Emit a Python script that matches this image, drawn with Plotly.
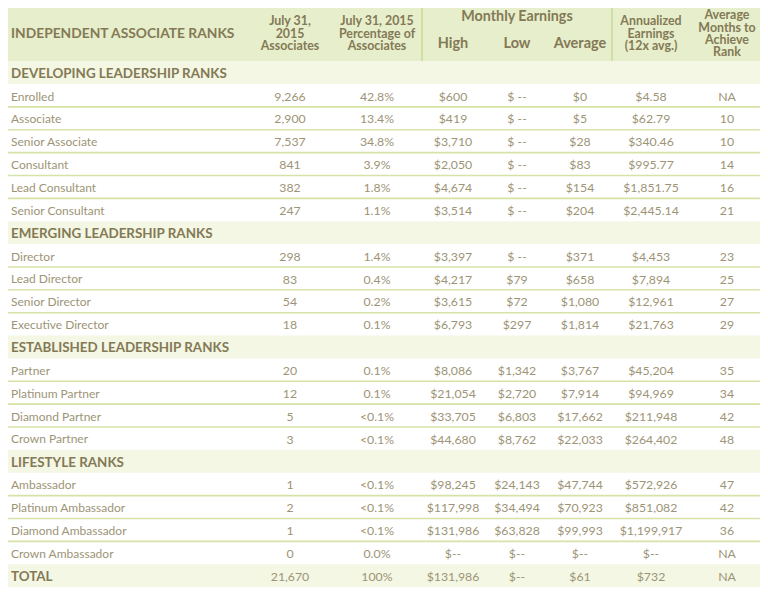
import plotly.graph_objects as go

# ---------------- data ----------------
section_names = ["DEVELOPING LEADERSHIP RANKS", "EMERGING LEADERSHIP RANKS",
                 "ESTABLISHED LEADERSHIP RANKS", "LIFESTYLE RANKS"]
section_sizes = [6, 4, 4, 4]

rank_names = ["Enrolled", "Associate", "Senior Associate", "Consultant", "Lead Consultant",
              "Senior Consultant", "Director", "Lead Director", "Senior Director",
              "Executive Director", "Partner", "Platinum Partner", "Diamond Partner",
              "Crown Partner", "Ambassador", "Platinum Ambassador", "Diamond Ambassador",
              "Crown Ambassador"]
associates = ["9,266", "2,900", "7,537", "841", "382", "247", "298", "83", "54", "18",
              "20", "12", "5", "3", "1", "2", "1", "0"]
pct_associates = ["42.8%", "13.4%", "34.8%", "3.9%", "1.8%", "1.1%", "1.4%", "0.4%", "0.2%",
                  "0.1%", "0.1%", "0.1%", "<0.1%", "<0.1%", "<0.1%", "<0.1%", "<0.1%", "0.0%"]
monthly_high = ["$600", "$419", "$3,710", "$2,050", "$4,674", "$3,514", "$3,397", "$4,217",
                "$3,615", "$6,793", "$8,086", "$21,054", "$33,705", "$44,680", "$98,245",
                "$117,998", "$131,986", "$--"]
monthly_low = ["$ --", "$ --", "$ --", "$ --", "$ --", "$ --", "$ --", "$79", "$72", "$297",
               "$1,342", "$2,720", "$6,803", "$8,762", "$24,143", "$34,494", "$63,828", "$--"]
monthly_avg = ["$0", "$5", "$28", "$83", "$154", "$204", "$371", "$658", "$1,080", "$1,814",
               "$3,767", "$7,914", "$17,662", "$22,033", "$47,744", "$70,923", "$99,993", "$--"]
annualized = ["$4.58", "$62.79", "$340.46", "$995.77", "$1,851.75", "$2,445.14", "$4,453",
              "$7,894", "$12,961", "$21,763", "$45,204", "$94,969", "$211,948", "$264,402",
              "$572,926", "$851,082", "$1,199,917", "$--"]
avg_months = ["NA", "10", "10", "14", "16", "21", "23", "25", "27", "29", "35", "34", "42",
              "48", "47", "42", "36", "NA"]
total_row = ["TOTAL", "21,670", "100%", "$131,986", "$--", "$61", "$732", "NA"]

col_headers = [["INDEPENDENT ASSOCIATE RANKS"],
               ["July 31,", "2015", "Associates"],
               ["July 31, 2015", "Percentage of", "Associates"],
               ["High"], ["Low"], ["Average"],
               ["Annualized", "Earnings", "(12x avg.)"],
               ["Average", "Months to", "Achieve", "Rank"]]
group_header = "Monthly Earnings"

# ---------------- layout constants ----------------
PAGE_W, PAGE_H, BODY_MARGIN = 768, 593, 8
W, H = PAGE_W - BODY_MARGIN, PAGE_H - BODY_MARGIN
col_x = [11, 290, 377, 453, 517, 580, 651, 727]
tbl_left, tbl_right = 4, 765
div_x = [422, 612]
hdr_top, hdr_bot = -3.0, -0.5
line_gap = 0.545
nudge = 0.09
px_per_unit = 22.865
hdr_top_px = 4

FONT = "Lato"
hdr_color = "#847955"
body_color = "#9d9476"
hdr_bg = "#e6eecb"
sec_bg = "#f3f7e4"
sep_color = "#d5e4a6"
div_color = "#c8da98"

# ---------------- build rows ----------------
rows = []
k = 0
for name, n in zip(section_names, section_sizes):
    rows.append(("section", [name] + [""] * 7))
    for _ in range(n):
        rows.append(("rank", [rank_names[k], associates[k], pct_associates[k], monthly_high[k],
                              monthly_low[k], monthly_avg[k], annualized[k], avg_months[k]]))
        k += 1
rows.append(("total", total_row))

fig = go.Figure()
shapes = []

shapes.append(dict(type="rect", xref="x", yref="y", x0=tbl_left, x1=tbl_right,
                   y0=hdr_top, y1=hdr_bot, fillcolor=hdr_bg, line_width=0, layer="below"))
for dx in div_x:
    shapes.append(dict(type="line", xref="x", yref="y", x0=dx, x1=dx, y0=hdr_top, y1=hdr_bot,
                       line=dict(color=div_color, width=1.5), layer="below"))

for i, (kind, vals) in enumerate(rows):
    if kind in ("section", "total"):
        shapes.append(dict(type="rect", xref="x", yref="y", x0=tbl_left, x1=tbl_right,
                           y0=i - 0.5, y1=i + 0.5, fillcolor=sec_bg, line_width=0, layer="below"))
    if kind == "rank" and i + 1 < len(rows) and rows[i + 1][0] == "rank":
        shapes.append(dict(type="line", xref="x", yref="y", x0=tbl_left, x1=tbl_right,
                           y0=i + 0.5, y1=i + 0.5,
                           line=dict(color=sep_color, width=1.6), layer="below"))

# body text
for c in range(8):
    xs, ys, ts, colors, sizes = [], [], [], [], []
    for i, (kind, vals) in enumerate(rows):
        t = vals[c]
        if t == "":
            continue
        bold = kind == "section" or (kind == "total" and c == 0)
        xs.append(col_x[c])
        ys.append(i + nudge)
        ts.append("<b>%s</b>" % t if bold else t)
        colors.append(hdr_color if bold else body_color)
        if bold:
            sizes.append(13.4)
        else:
            sizes.append(12 if c == 0 else 12.3)
    fig.add_trace(go.Scatter(
        x=xs, y=ys, text=ts, mode="text",
        textposition="middle right" if c == 0 else "middle center",
        textfont=dict(family=FONT, color=colors, size=sizes),
        hoverinfo="skip", showlegend=False, cliponaxis=False))

# header text
hdr_mid = (hdr_top + hdr_bot) / 2
hx, hy, ht, hs = [], [], [], []
for c, lines in enumerate(col_headers):
    yc = -1.34 if c in (3, 4, 5) else hdr_mid
    n = len(lines)
    for j, ln in enumerate(lines):
        hx.append(col_x[c])
        hy.append(yc + (j - (n - 1) / 2) * line_gap + nudge)
        ht.append("<b>%s</b>" % ln)
        if c == 0:
            hs.append(13.8)
        elif c in (3, 4, 5):
            hs.append(14.5)
        else:
            hs.append(12.4)
hx.append(col_x[4])
hy.append(-2.52 + nudge)
ht.append("<b>%s</b>" % group_header)
hs.append(14.3)

fig.add_trace(go.Scatter(
    x=hx[1:], y=hy[1:], text=ht[1:], mode="text", textposition="middle center",
    textfont=dict(family=FONT, color=hdr_color, size=hs[1:]),
    hoverinfo="skip", showlegend=False, cliponaxis=False))
fig.add_trace(go.Scatter(
    x=hx[:1], y=hy[:1], text=ht[:1], mode="text", textposition="middle right",
    textfont=dict(family=FONT, color=hdr_color, size=hs[:1]),
    hoverinfo="skip", showlegend=False, cliponaxis=False))

# axis ranges: figure pixel 0 corresponds to page pixel BODY_MARGIN
y_top = hdr_top + (BODY_MARGIN - hdr_top_px) / px_per_unit
y_bot = y_top + H / px_per_unit

fig.update_layout(
    width=W, height=H, margin=dict(l=0, r=0, t=0, b=0),
    paper_bgcolor="white", plot_bgcolor="white",
    xaxis=dict(range=[BODY_MARGIN, PAGE_W], visible=False, fixedrange=True),
    yaxis=dict(range=[y_bot, y_top], visible=False, fixedrange=True),
    shapes=shapes, showlegend=False,
)

fig.write_html("out.html")
